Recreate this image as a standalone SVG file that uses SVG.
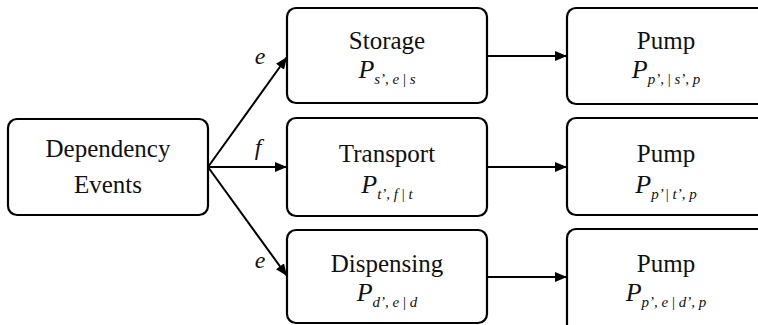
<svg xmlns="http://www.w3.org/2000/svg" width="758" height="325" viewBox="0 0 758 325" font-family="'Liberation Serif', 'DejaVu Serif', 'Times New Roman', serif">
<style>
.box{fill:#fff;stroke:#000;stroke-width:2.2}
text{font-family:'Liberation Serif','DejaVu Serif','Times New Roman',serif}
.t{font-size:25px;fill:#111;text-anchor:middle}
.p{font-size:26px;font-style:italic;fill:#111;text-anchor:middle}
.s{font-size:15px}
.lbl{font-size:24px;font-style:italic;fill:#111;text-anchor:middle}
.c{stroke:#000;stroke-width:2;fill:none;marker-end:url(#ah)}
</style>
<defs>
<marker id="ah" viewBox="0 0 12 10" refX="12" refY="5" markerWidth="12" markerHeight="10" markerUnits="userSpaceOnUse" orient="auto">
<path d="M0,0 L12,5 L0,10 Z" fill="#000"/>
</marker>
</defs>
<g id="connectors">
<line class="c" x1="208" y1="167" x2="287" y2="57"/>
<line class="c" x1="208" y1="167" x2="287" y2="167"/>
<line class="c" x1="208" y1="167" x2="287" y2="276"/>
<line class="c" x1="487" y1="56" x2="567" y2="56"/>
<line class="c" x1="487" y1="167" x2="567" y2="167"/>
<line class="c" x1="487" y1="277" x2="567" y2="277"/>
<text class="lbl" x="260" y="64">e</text>
<text class="lbl" x="258" y="155">f</text>
<text class="lbl" x="260" y="268">e</text>
</g>
<g id="dependency">
<rect class="box" x="8" y="119" width="200" height="96" rx="9"/>
<text class="t" x="108" y="157">Dependency</text>
<text class="t" x="108" y="193">Events</text>
</g>
<g id="storage">
<rect class="box" x="287" y="8" width="200" height="95" rx="9"/>
<text class="t" x="387" y="49">Storage</text>
<text class="p" x="387" y="78">P<tspan class="s" dy="6">s’, e <tspan font-style="normal">|</tspan> s</tspan></text>
</g>
<g id="transport">
<rect class="box" x="287" y="118" width="200" height="98" rx="9"/>
<text class="t" x="387" y="162">Transport</text>
<text class="p" x="387" y="193">P<tspan class="s" dy="6">t’, f <tspan font-style="normal">|</tspan> t</tspan></text>
</g>
<g id="dispensing">
<rect class="box" x="287" y="230" width="200" height="93" rx="9"/>
<text class="t" x="387" y="272">Dispensing</text>
<text class="p" x="387" y="301">P<tspan class="s" dy="6">d’, e <tspan font-style="normal">|</tspan> d</tspan></text>
</g>
<g id="pump1">
<rect class="box" x="567" y="8" width="200" height="96" rx="9"/>
<text class="t" x="666" y="49">Pump</text>
<text class="p" x="666" y="78">P<tspan class="s" dy="6">p’, <tspan font-style="normal">|</tspan> s’, p</tspan></text>
</g>
<g id="pump2">
<rect class="box" x="567" y="118" width="200" height="97" rx="9"/>
<text class="t" x="666" y="162">Pump</text>
<text class="p" x="666" y="193">P<tspan class="s" dy="6">p’ <tspan font-style="normal">|</tspan> t’, p</tspan></text>
</g>
<g id="pump3">
<rect class="box" x="567" y="229" width="200" height="120" rx="9"/>
<text class="t" x="666" y="272">Pump</text>
<text class="p" x="666" y="301">P<tspan class="s" dy="6">p’, e <tspan font-style="normal">|</tspan> d’, p</tspan></text>
</g>
</svg>
